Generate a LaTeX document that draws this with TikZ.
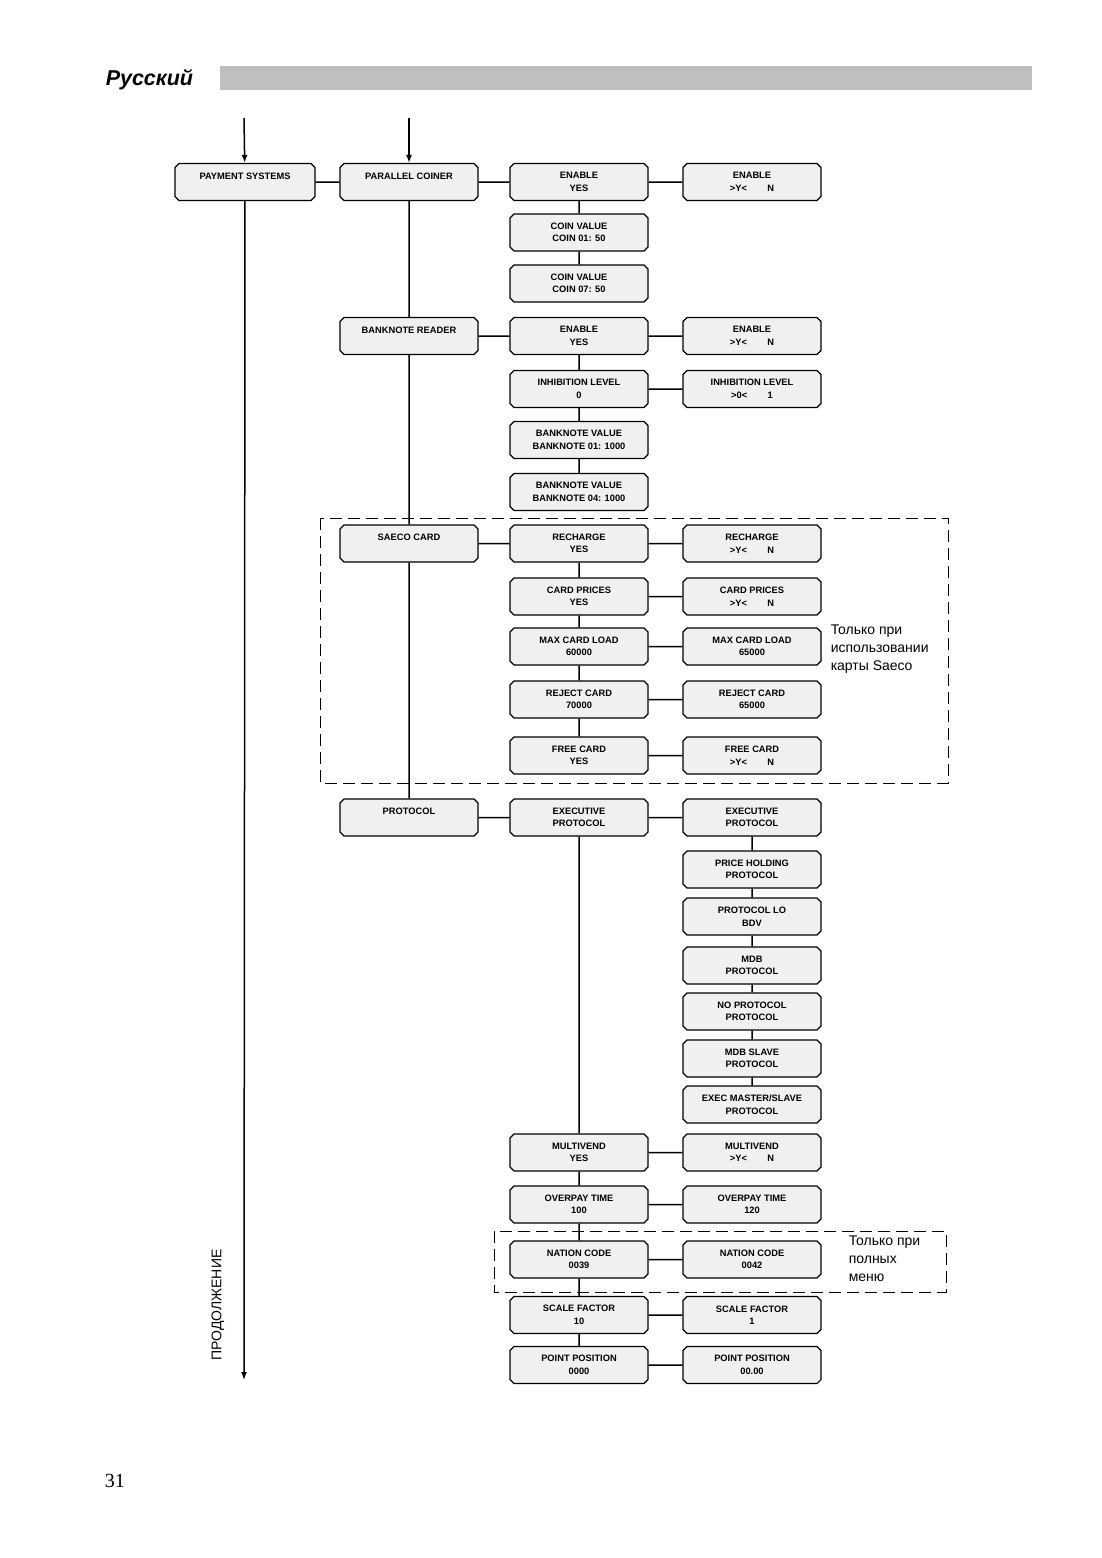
\documentclass[tikz,border=0pt]{standalone}
\usepackage{fontspec}
\setmainfont{Liberation Sans}
\newfontfamily\pagefont{Liberation Serif}
\usetikzlibrary{shapes.misc,arrows.meta}

\begin{document}
\begin{tikzpicture}[x=1pt,y=-1pt,line width=1.5pt]
	\tikzstyle{menu}=[chamfered rectangle,chamfered rectangle xsep=2pt,chamfered rectangle ysep=2pt,draw=black,line width=1.1pt,fill=black!6,minimum width=138pt,minimum height=37pt,inner sep=1pt,align=center,font=\bfseries\fontsize{9.3}{12.5}\selectfont]
	\tikzstyle{note}=[anchor=north west,align=left,inner sep=0pt,font=\fontsize{14}{18}\selectfont]
	\tikzstyle{frame}=[dash pattern=on 12pt off 6pt,line width=1pt]
	\tikzstyle{arr}=[-{Latex[length=8pt,width=6pt]}]
	
	\useasboundingbox (0,0) rectangle (1102,1558);
	
	% header
	\fill[black!25] (220,66) rectangle (1032,90);
	\node[anchor=base west,inner sep=0pt,font=\bfseries\itshape\fontsize{21.5}{24}\selectfont] (title) at (105,85) {Русский};
	\node[anchor=base west,inner sep=0pt,font=\pagefont\fontsize{20}{24}\selectfont] (page) at (104,1487) {31};
	
	% dashed frames
	\draw[frame] (320,518) rectangle (948,783);
	\draw[frame] (494,1231) rectangle (946,1292);
	
	% left columns
	\node[menu,minimum width=140pt] (pay) at (245,182) {PAYMENT SYSTEMS\\~};
	\node[menu] (par) at (409,182) {PARALLEL COINER\\~};
	\node[menu] (bank) at (409,336) {BANKNOTE READER\\~};
	\node[menu] (saeco) at (409,543.5) {SAECO CARD\\~};
	\node[menu] (prot) at (409,817.5) {PROTOCOL\\~};
	
	% coiner
	\node[menu] (en1) at (579,182) {ENABLE\\YES};
	\node[menu] (en1r) at (752,182) {ENABLE\\>Y<\hspace{2.2em}N};
	\node[menu] (coin1) at (579,232.5) {COIN VALUE\\COIN 01: 50};
	\node[menu] (coin2) at (579,283.5) {COIN VALUE\\COIN 07: 50};
	
	% banknote reader
	\node[menu] (en2) at (579,336) {ENABLE\\YES};
	\node[menu] (en2r) at (752,336) {ENABLE\\>Y<\hspace{2.2em}N};
	\node[menu] (inh) at (579,389) {INHIBITION LEVEL\\0};
	\node[menu] (inhr) at (752,389) {INHIBITION LEVEL\\>0<\hspace{2.2em}1};
	\node[menu] (bv1) at (579,440) {BANKNOTE VALUE\\BANKNOTE 01: 1000};
	\node[menu] (bv2) at (579,492) {BANKNOTE VALUE\\BANKNOTE 04: 1000};
	
	% saeco card
	\node[menu] (rech) at (579,543.5) {RECHARGE\\YES};
	\node[menu] (rechr) at (752,543.5) {RECHARGE\\>Y<\hspace{2.2em}N};
	\node[menu] (cp) at (579,596.5) {CARD PRICES\\YES};
	\node[menu] (cpr) at (752,596.5) {CARD PRICES\\>Y<\hspace{2.2em}N};
	\node[menu] (max) at (579,646.5) {MAX CARD LOAD\\60000};
	\node[menu] (maxr) at (752,646.5) {MAX CARD LOAD\\65000};
	\node[menu] (rej) at (579,699.5) {REJECT CARD\\70000};
	\node[menu] (rejr) at (752,699.5) {REJECT CARD\\65000};
	\node[menu] (free) at (579,755.5) {FREE CARD\\YES};
	\node[menu] (freer) at (752,755.5) {FREE CARD\\>Y<\hspace{2.2em}N};
	\node[note] (saeconote) at (830,624) {Только при\\использовании\\карты Saeco};
	
	% protocol
	\node[menu] (exec) at (579,817.5) {EXECUTIVE\\PROTOCOL};
	\node[menu] (execr) at (752,817.5) {EXECUTIVE\\PROTOCOL};
	\node[menu] (ph) at (752,869.5) {PRICE HOLDING\\PROTOCOL};
	\node[menu] (lo) at (752,916.5) {PROTOCOL LO\\BDV};
	\node[menu] (mdb) at (752,965.5) {MDB\\PROTOCOL};
	\node[menu] (nop) at (752,1011.5) {NO PROTOCOL\\PROTOCOL};
	\node[menu] (slave) at (752,1058.5) {MDB SLAVE\\PROTOCOL};
	\node[menu] (master) at (752,1104.5) {EXEC MASTER/SLAVE\\PROTOCOL};
	\node[menu] (mv) at (579,1152.5) {MULTIVEND\\YES};
	\node[menu] (mvr) at (752,1152.5) {MULTIVEND\\>Y<\hspace{2.2em}N};
	\node[menu] (op) at (579,1204.5) {OVERPAY TIME\\100};
	\node[menu] (opr) at (752,1204.5) {OVERPAY TIME\\120};
	\node[menu] (nat) at (579,1259.5) {NATION CODE\\0039};
	\node[menu] (natr) at (752,1259.5) {NATION CODE\\0042};
	\node[note] (menunote) at (848,1235) {Только при\\полных\\меню};
	\node[menu] (sf) at (579,1315) {SCALE FACTOR\\10};
	\node[menu] (sfr) at (752,1315) {SCALE FACTOR\\1};
	\node[menu] (pp) at (579,1365) {POINT POSITION\\0000};
	\node[menu] (ppr) at (752,1365) {POINT POSITION\\00.00};
	
	% entries and continuation
	\coordinate (in1) at (244,118);
	\coordinate (in2) at (409,118);
	\coordinate (out) at (244,1380);
	\draw[arr] (in1) -- (pay);
	\draw[arr] (in2) -- (par);
	\draw[arr] (pay) -- (out);
	\node[rotate=90,font=\fontsize{14}{16}\selectfont] (cont) at (218,1305) {ПРОДОЛЖЕНИЕ};
	
	% connectors
	\draw (pay) -- (par) -- (en1) -- (en1r);
	\draw (en1) -- (coin1) -- (coin2);
	\draw (par) -- (bank) -- (saeco) -- (prot);
	\draw (bank) -- (en2) -- (en2r);
	\draw (en2) -- (inh) -- (bv1) -- (bv2);
	\draw (inh) -- (inhr);
	\draw (saeco) -- (rech) -- (rechr);
	\draw (rech) -- (cp) -- (max) -- (rej) -- (free);
	\draw (cp) -- (cpr);
	\draw (max) -- (maxr);
	\draw (rej) -- (rejr);
	\draw (free) -- (freer);
	\draw (prot) -- (exec) -- (execr);
	\draw (execr) -- (ph) -- (lo) -- (mdb) -- (nop) -- (slave) -- (master);
	\draw (exec) -- (mv) -- (op) -- (nat) -- (sf) -- (pp);
	\draw (mv) -- (mvr);
	\draw (op) -- (opr);
	\draw (nat) -- (natr);
	\draw (sf) -- (sfr);
	\draw (pp) -- (ppr);
\end{tikzpicture}
\end{document}
